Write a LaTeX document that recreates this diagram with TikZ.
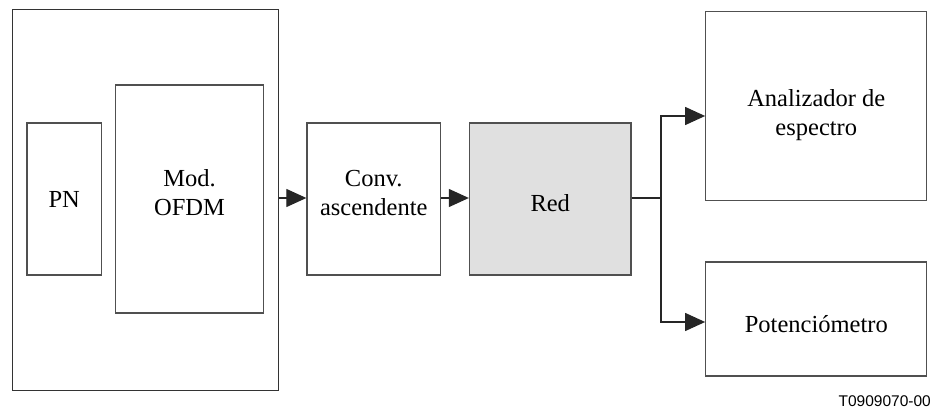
\documentclass[tikz,border=0pt]{standalone}
\usepackage{fontspec}
\setmainfont{Liberation Serif}
\newfontfamily\labelfont{Liberation Sans}
\usetikzlibrary{arrows.meta}
\definecolor{boxline}{HTML}{505050}
\definecolor{redfill}{HTML}{E0E0E0}
\newcommand{\liftlines}[2]{\raisebox{#1}[\height][\depth]{\begin{tabular}{@{}c@{}}#2\end{tabular}}}
\tikzset{
  blk/.style={draw=boxline, line width=1.3pt, inner sep=0pt, align=center,
    font=\fontsize{24.5}{29.5}\selectfont},
  conn/.style={draw=black!85, line width=1.2pt},
  arr/.style={conn, -{Triangle[length=20pt,width=18pt]}},
}
\begin{document}
\begin{tikzpicture}[x=1pt,y=-1pt]
\useasboundingbox (0,0) rectangle (938,409);
% outer box
\node[blk, minimum width=266pt, minimum height=381pt, draw=black!80] (outer) at (145.4,199.7) {};
\node[blk, minimum width=74.5pt, minimum height=152pt] (pn) at (64.25,199) {PN};
\node[blk, minimum width=148pt, minimum height=228pt] (mod) at (189.5,199) {\liftlines{4pt}{Mod.\\OFDM}};
\node[blk, minimum width=133.5pt, minimum height=152pt] (conv) at (373.75,199) {\liftlines{4pt}{Conv.\\ascendente}};
\node[blk, minimum width=161.5pt, minimum height=152pt, fill=redfill] (red) at (550.25,199) {\raisebox{-4pt}[\height][\depth]{Red}};
\node[blk, minimum width=221pt, minimum height=189pt] (ana) at (816.3,106.3) {\liftlines{-9pt}{Analizador de\\espectro}};
\node[blk, minimum width=221pt, minimum height=114pt] (pot) at (816.3,319) {\raisebox{-5pt}[\height][\depth]{Potenciómetro}};
\node[anchor=base east, inner sep=0pt, font=\labelfont\fontsize{15.5}{18}\selectfont] (tag) at (931,406) {T0909070-00};
% connectors
\coordinate (br) at (661,198);
\draw[arr] (outer.east |- 0,198) -- (conv.west |- 0,198);
\draw[arr] (conv.east |- 0,198) -- (red.west |- 0,198);
\draw[conn] (red.east |- 0,198) -- (br);
\draw[arr] (br) |- (ana.west |- 0,116);
\draw[arr] (br) |- (pot.west |- 0,322);
\end{tikzpicture}
\end{document}
